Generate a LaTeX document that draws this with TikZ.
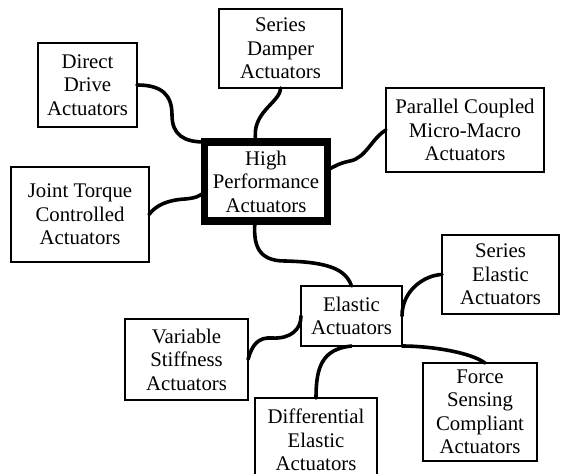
\documentclass[tikz,border=0pt]{standalone}
\usepackage{fontspec}
\setmainfont{Liberation Serif}
\tikzset{
  box/.style={draw=black, line width=1.3pt, rectangle, inner sep=0pt, outer sep=0pt, align=center,
    font=\fontsize{20.8}{23.5}\selectfont},
  hpbox/.style={box, line width=7.5pt},
  wire/.style={draw=black, line width=3.6pt, line cap=round, line join=round}
}
\begin{document}
\begin{tikzpicture}[x=1pt,y=-1pt]
\useasboundingbox (0,0) rectangle (561,473);
\clip (0,0) rectangle (561,473);
\fill[white] (0,0) rectangle (561,473);

\node[box, minimum width=99pt, minimum height=84pt] (dd) at (87.5,85) {Direct\\Drive\\Actuators};
\node[box, minimum width=123pt, minimum height=79pt] (sd) at (280.5,48.5) {Series\\Damper\\Actuators};
\node[box, minimum width=158pt, minimum height=84pt] (pc) at (465,130) {Parallel Coupled\\Micro-Macro\\Actuators};
\node[hpbox, minimum width=123pt, minimum height=79pt] (hp) at (266,181.5) {High\\Performance\\Actuators};
\node[box, minimum width=138pt, minimum height=95pt] (jt) at (80,214.5) {Joint Torque\\Controlled\\Actuators};
\node[box, minimum width=101pt, minimum height=60pt] (el) at (351.5,316) {Elastic\\Actuators};
\node[box, minimum width=117pt, minimum height=79pt] (se) at (500.5,274.5) {Series\\Elastic\\Actuators};
\node[box, minimum width=123pt, minimum height=81pt] (vs) at (186.5,359.5) {Variable\\Stiffness\\Actuators};
\node[box, minimum width=122pt, minimum height=84pt] (de) at (316,440) {Differential\\Elastic\\Actuators};
\node[box, minimum width=114pt, minimum height=98pt] (fs) at (480,412) {Force\\Sensing\\Compliant\\Actuators};

% connectors
\draw[wire] (dd.east) .. controls (162,85) and (172,95) .. (172,115)
  .. controls (172,135) and (184,142) .. (hp.north west);
\draw[wire] (sd.south) .. controls (280.5,103) and (250,112) .. ([xshift=-10pt]hp.north);
\draw[wire] (pc.west) .. controls (372,138) and (366,158) .. (350,161)
  .. controls (340,163) and (335,166) .. ([yshift=11.5pt]hp.east);
\draw[wire] (jt.east) .. controls (156,205) and (168,200) .. (185,199)
  .. controls (196,198) and (200,196) .. ([yshift=-10.5pt]hp.west);
\draw[wire] ([xshift=-11pt]hp.south) .. controls (253,245) and (258,261) .. (285,261)
  .. controls (330,262) and (346,270) .. (el.north);
\draw[wire] (vs.east) .. controls (252,345) and (258,337) .. (272,338)
  .. controls (290,339) and (301,330) .. (el.west);
\draw[wire] (se.west) .. controls (425,275) and (402,290) .. (el.east);
\draw[wire] (el.south east) .. controls (430,346) and (470,352) .. ([xshift=5pt]fs.north);
\draw[wire] (el.south) .. controls (321.5,349) and (316,368) .. (de.north);
\end{tikzpicture}
\end{document}
